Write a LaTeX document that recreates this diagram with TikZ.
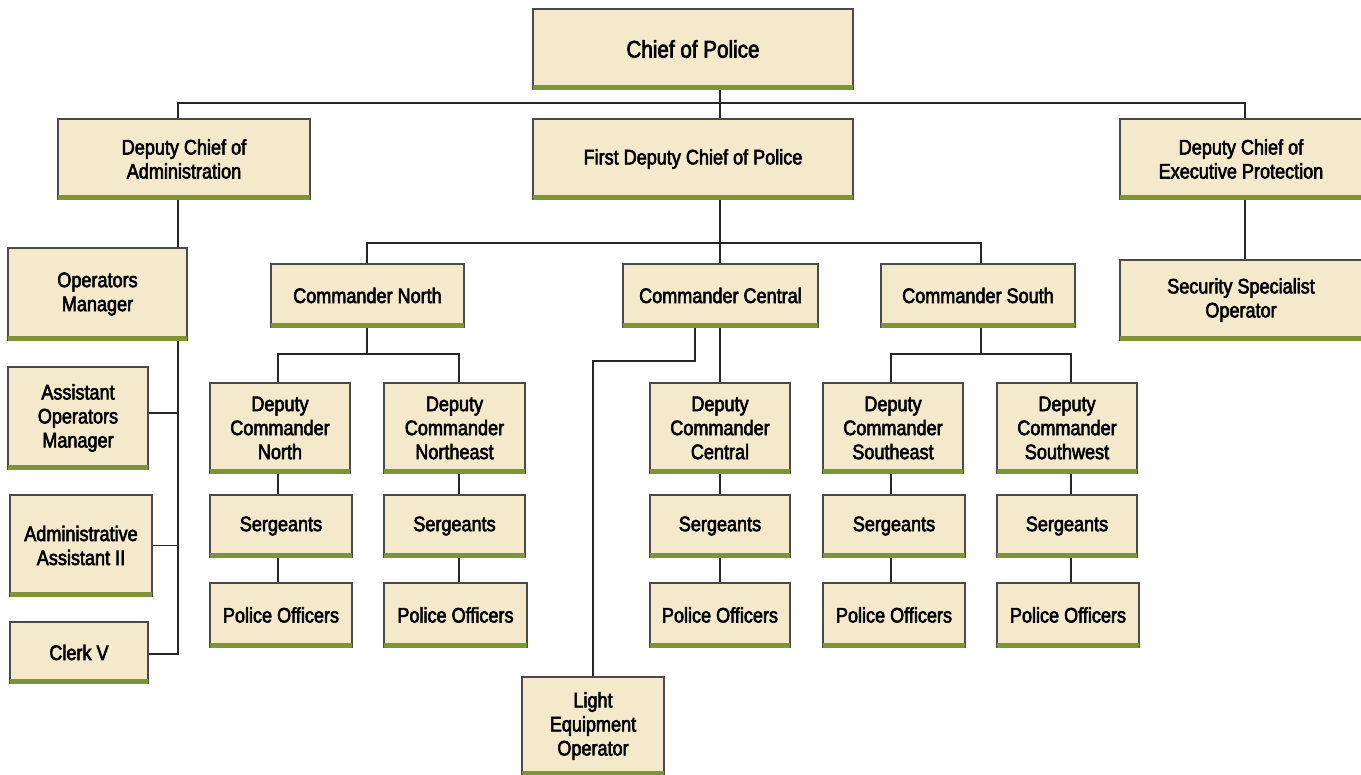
\documentclass[tikz,border=0pt]{standalone}
\usepackage{fontspec}
\setmainfont{Liberation Sans}[FakeStretch=0.86,FakeBold=2.8]
\definecolor{boxfill}{HTML}{F4EACB}
\definecolor{barcol}{HTML}{7E9438}
\definecolor{edgecol}{HTML}{4A4A4A}
\tikzset{
  orgbox/.style={draw=edgecol, line width=1.1pt, fill=boxfill, align=center, inner sep=0pt,
    font=\fontsize{21}{24}\selectfont, text=black},
  greenbar/.style={draw=barcol, line width=4.5pt},
  conn/.style={draw=black!85, line width=1.2pt}
}
\newcommand\orgbox[6]{%
  \node[orgbox, minimum width={#4-#2}, minimum height={#5-#3}] (#1) at ({(#2+#4)/2},{(#3+#5)/2}) {#6};
  \draw[greenbar] ([yshift=2.2pt,xshift=0.5pt]#1.south west) -- ([yshift=2.2pt,xshift=-0.5pt]#1.south east);}
\begin{document}
\begin{tikzpicture}[x=1pt,y=-1pt]
\useasboundingbox (0,0) rectangle (1361,775);
\coordinate (tl) at (178,103);
\coordinate (tr) at (1245,103);
\coordinate (tm) at (720,103);
\coordinate (cl) at (367,243);
\coordinate (cr) at (981,243);
\coordinate (cm) at (720,243);
\coordinate (nl) at (278,354);
\coordinate (nr) at (459,354);
\coordinate (sl) at (891,354);
\coordinate (sr) at (1071,354);
\coordinate (ad) at (178,654);
\coordinate (lb) at (695,361);
\coordinate (lc) at (593,361);

\orgbox{chief}{533}{9}{853}{89}{\fontsize{24}{27}\selectfont Chief of Police}
\orgbox{dca}{58}{119}{310}{199}{Deputy Chief of\\Administration}
\orgbox{fdc}{533}{119}{853}{199}{First Deputy Chief of Police}
\orgbox{dcep}{1120}{119}{1362}{199}{Deputy Chief of\\Executive Protection}
\orgbox{ssp}{1120}{260}{1362}{340}{Security Specialist\\Operator}

\orgbox{om}{8}{248}{187}{340}{Operators\\Manager}
\orgbox{aom}{8}{367}{148}{469}{Assistant\\Operators\\Manager}
\orgbox{aa}{10}{495}{152}{596}{Administrative\\Assistant II}
\orgbox{clerk}{10}{622}{148}{683}{Clerk V}

\orgbox{cn}{271}{264}{464}{327}{Commander North}
\orgbox{cc}{623}{264}{818}{327}{Commander Central}
\orgbox{cs}{881}{264}{1075}{327}{Commander South}

\orgbox{dcn}{210}{383}{350}{473}{Deputy\\Commander\\North}
\orgbox{dcne}{384}{383}{525}{473}{Deputy\\Commander\\Northeast}
\orgbox{dcc}{650}{383}{790}{473}{Deputy\\Commander\\Central}
\orgbox{dcse}{823}{383}{963}{473}{Deputy\\Commander\\Southeast}
\orgbox{dcsw}{997}{383}{1137}{473}{Deputy\\Commander\\Southwest}

\orgbox{sn}{210}{495}{352}{557}{Sergeants}
\orgbox{sne}{384}{495}{525}{557}{Sergeants}
\orgbox{sc}{650}{495}{790}{557}{Sergeants}
\orgbox{sse}{823}{495}{965}{557}{Sergeants}
\orgbox{ssw}{997}{495}{1137}{557}{Sergeants}

\orgbox{pn}{210}{583}{352}{647}{Police Officers}
\orgbox{pne}{384}{583}{527}{647}{Police Officers}
\orgbox{pc}{650}{583}{790}{647}{Police Officers}
\orgbox{pse}{823}{583}{965}{647}{Police Officers}
\orgbox{psw}{997}{583}{1139}{647}{Police Officers}

\orgbox{leo}{522}{677}{664}{775}{Light\\Equipment\\Operator}

\draw[conn] (chief.south -| tm) -- (fdc.north -| tm);
\draw[conn] (dca.north -| tl) -- (tl) -- (tr) -- (dcep.north -| tr);
\draw[conn] (dcep.south -| tr) -- (ssp.north -| tr);
\draw[conn] (dca.south -| tl) -- (om.north -| tl);
\draw[conn] (om.south -| ad) -- (ad) -- (clerk.east |- ad);
\draw[conn] ([yshift=5pt]aom.east) -- ([yshift=5pt]aom.east -| ad);
\draw[conn] (aa.east) -- (aa.east -| ad);
\draw[conn] (fdc.south -| cm) -- (cc.north -| cm);
\draw[conn] (cn.north -| cl) -- (cl) -- (cr) -- (cs.north -| cr);
\draw[conn] (cn.south -| cl) -- (cl |- nl);
\draw[conn] (dcn.north -| nl) -- (nl) -- (nr) -- (dcne.north -| nr);
\draw[conn] (cs.south -| cr) -- (cr |- sl);
\draw[conn] (dcse.north -| sl) -- (sl) -- (sr) -- (dcsw.north -| sr);
\draw[conn] (cc.south -| cm) -- (dcc.north -| cm);
\draw[conn] (cc.south -| lb) -- (lb) -- (lc) -- (leo.north -| lc);
\foreach \a/\b/\xx in {dcn/sn/nl, sn/pn/nl, dcne/sne/nr, sne/pne/nr, dcc/sc/cm, sc/pc/cm, dcse/sse/sl, sse/pse/sl, dcsw/ssw/sr, ssw/psw/sr}{
  \draw[conn] (\a.south -| \xx) -- (\b.north -| \xx);
}
\end{tikzpicture}
\end{document}
